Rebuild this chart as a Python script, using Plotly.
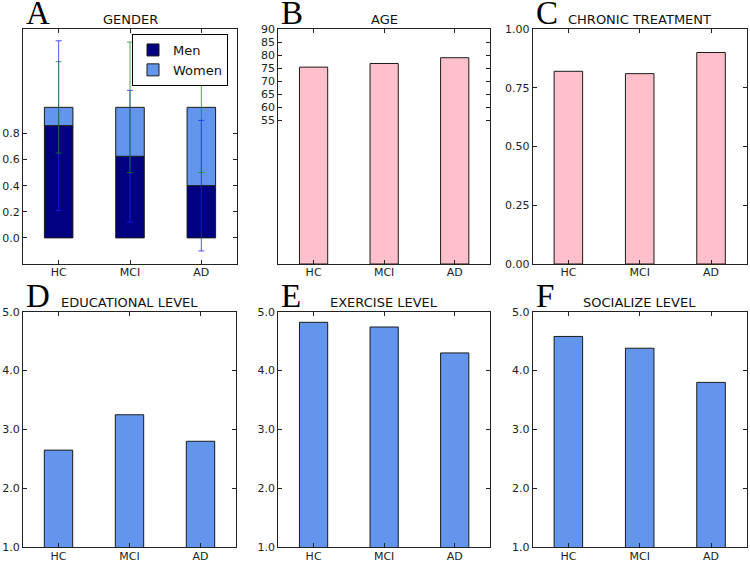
import plotly.graph_objects as go

W, H = 750, 562

categories = ["HC", "MCI", "AD"]

# Panel A: gender
men = [0.86, 0.625, 0.40]
women = [0.14, 0.375, 0.60]
men_err = [0.65, 0.505, 0.50]
women_err = [0.35, 0.50, 0.50]

# Panel B: age
age = [75.4, 76.8, 79.0]
age_ticks = [55, 60, 65, 70, 75, 80, 85, 90]

# Panel C: chronic treatment
chronic = [0.82, 0.81, 0.90]
chronic_ticks = [0.0, 0.25, 0.5, 0.75, 1.0]

# Panels D-F
education = [2.65, 3.25, 2.80]
exercise = [4.82, 4.74, 4.30]
socialize = [4.58, 4.38, 3.80]
level_ticks = [1.0, 2.0, 3.0, 4.0, 5.0]

gender_ticks = [0.0, 0.2, 0.4, 0.6, 0.8]

titles = ["GENDER", "AGE", "CHRONIC TREATMENT",
          "EDUCATIONAL LEVEL", "EXERCISE LEVEL", "SOCIALIZE LEVEL"]
letters = ["A", "B", "C", "D", "E", "F"]

NAVY = "#000080"
CORN = "#6495ED"
PINK = "#FFC0CB"
EDGE = "#1a1a1a"
BW = 0.4

# pixel geometry of the six axes (left, right, top, bottom)
boxes = [
    (23, 237, 29, 264), (278.3, 490, 29, 264), (532.7, 746.7, 29, 264),
    (23, 236, 311.7, 547.3), (278.3, 490, 311.7, 547.3), (532.7, 746.7, 311.7, 547.3),
]

fig = go.Figure()

def bar(y, color, axis_i, name=None, base=None, showlegend=False):
    suffix = "" if axis_i == 1 else str(axis_i)
    fig.add_trace(go.Bar(
        x=categories, y=y, base=base, width=BW, name=name,
        marker=dict(color=color, line=dict(color=EDGE, width=1)),
        xaxis="x" + suffix, yaxis="y" + suffix, showlegend=showlegend,
    ))

bar(men, NAVY, 1, name="Men", showlegend=True)
bar(women, CORN, 1, name="Women", base=men, showlegend=True)

totals = [m + w for m, w in zip(men, women)]
fig.add_trace(go.Scatter(
    x=categories, y=men, mode="markers", marker=dict(size=0.1, opacity=0),
    error_y=dict(type="data", array=men_err, color="rgba(30,30,255,0.75)",
                 thickness=1, width=3),
    showlegend=False, xaxis="x", yaxis="y", hoverinfo="skip"))
fig.add_trace(go.Scatter(
    x=categories, y=totals, mode="markers", marker=dict(size=0.1, opacity=0),
    error_y=dict(type="data", array=women_err, color="rgba(20,140,20,0.75)",
                 thickness=1, width=3),
    showlegend=False, xaxis="x", yaxis="y", hoverinfo="skip"))

bar(age, PINK, 2)
bar(chronic, PINK, 3)
bar(education, CORN, 4)
bar(exercise, CORN, 5)
bar(socialize, CORN, 6)

yspecs = [
    ([-0.2, 1.6], gender_ticks, [f"{v:.1f}" for v in gender_ticks]),
    ([0, 90], age_ticks, [str(v) for v in age_ticks]),
    ([0, 1], chronic_ticks, [f"{v:.2f}" for v in chronic_ticks]),
    ([1, 5], level_ticks, [f"{v:.1f}" for v in level_ticks]),
    ([1, 5], level_ticks, [f"{v:.1f}" for v in level_ticks]),
    ([1, 5], level_ticks, [f"{v:.1f}" for v in level_ticks]),
]

layout = dict(
    template="none",
    width=W, height=H, margin=dict(l=0, r=0, t=0, b=0, pad=0),
    paper_bgcolor="white", plot_bgcolor="white",
    barmode="overlay",
    font=dict(family="DejaVu Sans", size=11, color="#222"),
    legend=dict(x=132 / W, y=1 - 34 / H, xanchor="left", yanchor="top",
                bordercolor="black", borderwidth=1, bgcolor="white",
                font=dict(size=13, color="#111"), tracegroupgap=2),
    annotations=[],
)

axis_common = dict(showline=True, linecolor="#222", linewidth=1, mirror="allticks",
                   ticks="inside", ticklen=4, tickcolor="#222", showgrid=False,
                   zeroline=False, fixedrange=True, automargin=False)

for i, ((l, r, t, b), (yr, tv, tt)) in enumerate(zip(boxes, yspecs)):
    suffix = "" if i == 0 else str(i + 1)
    layout["xaxis" + suffix] = dict(
        domain=[l / W, r / W], anchor="y" + suffix, range=[-0.5, 2.5],
        type="category", tickfont=dict(size=11), ticklabelstandoff=-2,
        **axis_common)
    layout["yaxis" + suffix] = dict(
        domain=[1 - b / H, 1 - t / H], anchor="x" + suffix, range=yr,
        tickvals=tv, ticktext=tt, tickfont=dict(size=11), **axis_common)
    cx = (l + r) / 2
    ty = 19 if i < 3 else 302.5
    layout["annotations"].append(dict(
        text=titles[i], x=cx / W, y=1 - ty / H, xref="paper", yref="paper",
        xanchor="center", yanchor="middle", showarrow=False,
        font=dict(size=13, color="#111", family="DejaVu Sans")))
    ly = 13 if i < 3 else 296
    layout["annotations"].append(dict(
        text=letters[i], x=(l + 1) / W, y=1 - ly / H, xref="paper", yref="paper",
        xanchor="left", yanchor="middle", showarrow=False,
        font=dict(size=33, color="black", family="Liberation Serif")))

fig.update_layout(**layout)
fig.write_html("out.html", config={"displayModeBar": False},
               post_script="document.body.style.margin='0px';document.body.style.overflow='hidden';")
